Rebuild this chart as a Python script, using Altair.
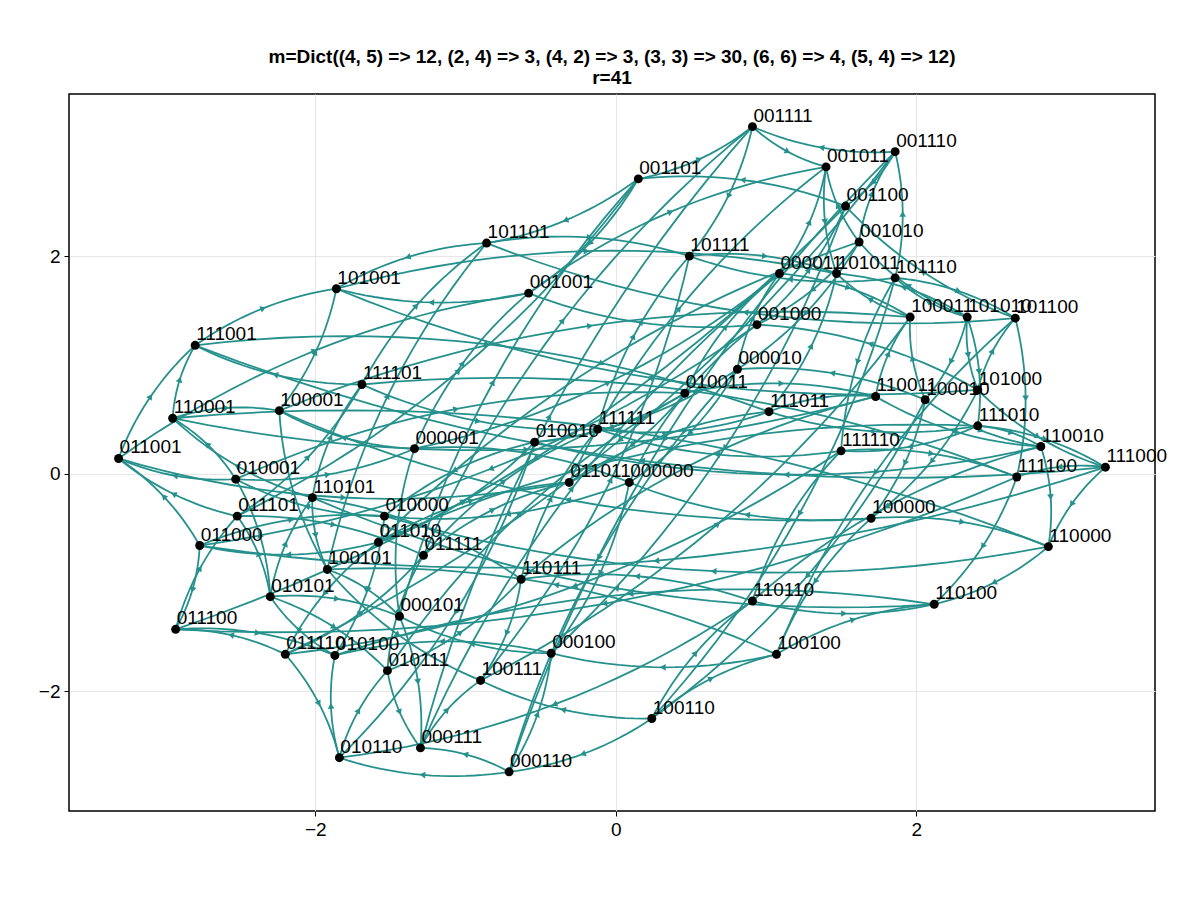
import math
import pandas as pd
import altair as alt

labels = ["001111", "001011", "001110", "001101", "001100", "001010", "101101", "101111",
          "000011", "101011", "101110", "101001", "001001", "001000", "100011", "101010",
          "101100", "111001", "000010", "111101", "010011", "110001", "100001", "110011",
          "100010", "101000", "111011", "111010", "000001", "010010", "111111", "011001",
          "110010", "111110", "111100", "111000", "010001", "110101", "011011", "000000",
          "011101", "010000", "011010", "100000", "011111", "110000", "100101", "011000",
          "110111", "010101", "000101", "110110", "110100", "011100", "011110", "010100",
          "000100", "100100", "010111", "100111", "100110", "010110", "000111", "000110"]
xs = [0.91, 1.40, 1.86, 0.15, 1.53, 1.62, -0.86, 0.49,
      1.09, 1.47, 1.86, -1.86, -0.58, 0.94, 1.96, 2.34,
      2.66, -2.80, 0.81, -1.69, 0.46, -2.95, -2.24, 1.73,
      2.06, 2.41, 1.02, 2.41, -1.34, -0.54, -0.12, -3.31,
      2.83, 1.50, 2.67, 3.26, -2.53, -2.02, -0.31, 0.09,
      -2.52, -1.54, -1.58, 1.70, -1.28, 2.88, -1.92, -2.77,
      -0.63, -2.30, -1.44, 0.91, 2.12, -2.93, -2.20, -1.87,
      -0.43, 1.07, -1.52, -0.90, 0.24, -1.84, -1.30, -0.71]
ys = [3.19, 2.82, 2.96, 2.71, 2.46, 2.13, 2.12, 2.00,
      1.84, 1.84, 1.80, 1.70, 1.66, 1.37, 1.44, 1.44,
      1.43, 1.18, 0.96, 0.82, 0.74, 0.51, 0.58, 0.71,
      0.68, 0.77, 0.57, 0.44, 0.23, 0.29, 0.41, 0.14,
      0.25, 0.21, -0.03, 0.06, -0.05, -0.22, -0.08, -0.08,
      -0.39, -0.39, -0.63, -0.41, -0.75, -0.67, -0.88, -0.66,
      -0.97, -1.13, -1.31, -1.17, -1.20, -1.43, -1.66, -1.67,
      -1.65, -1.66, -1.81, -1.90, -2.25, -2.61, -2.52, -2.74]

W, H = 1086, 717
XD = [-3.64, 3.59]
YD = [-3.10, 3.49]
sx = W / (XD[1] - XD[0])
sy = H / (YD[1] - YD[0])
TEAL = "#26918c"

pos = {l: (x, y) for l, x, y in zip(labels, xs, ys)}

# edges between labels one bit apart
line_rows, arrow_rows = [], []
eid = 0
for a in labels:
    ia = int(a, 2)
    for bit in range(6):
        ib = ia ^ (1 << bit)
        if ib < ia:
            continue
        b = format(ib, "06b")
        src, dst = (a, b) if (ia + bit) % 2 == 0 else (b, a)
        x0, y0 = pos[src][0] * sx, pos[src][1] * sy
        x1, y1 = pos[dst][0] * sx, pos[dst][1] * sy
        dx, dy = x1 - x0, y1 - y0
        bend = 0.12 * (1 if (ia + 2 * bit) % 3 else -1)
        cx = (x0 + x1) / 2 - dy * bend
        cy = (y0 + y1) / 2 + dx * bend
        for k in range(21):
            t = k / 20
            px = (1 - t) ** 2 * x0 + 2 * (1 - t) * t * cx + t ** 2 * x1
            py = (1 - t) ** 2 * y0 + 2 * (1 - t) * t * cy + t ** 2 * y1
            line_rows.append({"e": eid, "k": k, "x": px / sx, "y": py / sy})
        px = 0.25 * x0 + 0.5 * cx + 0.25 * x1
        py = 0.25 * y0 + 0.5 * cy + 0.25 * y1
        tx = (cx - x0) + (x1 - cx)
        ty = (cy - y0) + (y1 - cy)
        ang = math.degrees(math.atan2(tx, ty)) % 360
        arrow_rows.append({"x": px / sx, "y": py / sy, "a": ang})
        eid += 1

edges = pd.DataFrame(line_rows)
arrows = pd.DataFrame(arrow_rows)
nodes = pd.DataFrame({"label": labels, "x": xs, "y": ys})

X = alt.X("x:Q", scale=alt.Scale(domain=XD, nice=False, zero=False),
          axis=alt.Axis(values=[-2, 0, 2], title=None, format="d"))
Y = alt.Y("y:Q", scale=alt.Scale(domain=YD, nice=False, zero=False),
          axis=alt.Axis(values=[-2, 0, 2], title=None, format="d"))

lines = alt.Chart(edges).mark_line(color=TEAL, strokeWidth=1.8, clip=True).encode(
    x=X, y=Y, detail="e:N", order="k:Q")
heads = alt.Chart(arrows).mark_point(shape="triangle", filled=True, color=TEAL,
                                     size=45, opacity=1).encode(
    x="x:Q", y="y:Q", angle=alt.Angle("a:Q", scale=None))
dots = alt.Chart(nodes).mark_circle(color="black", size=80, opacity=1).encode(x="x:Q", y="y:Q")
text = alt.Chart(nodes).mark_text(align="left", baseline="bottom", dx=1, dy=-1,
                                  fontSize=19, font="Liberation Sans").encode(
    x="x:Q", y="y:Q", text="label:N")

chart = alt.layer(lines, heads, dots, text).properties(
    width=W, height=H,
    padding={"left": 30, "top": 40, "right": 5, "bottom": 5},
    title=alt.Title(["m=Dict((4, 5) => 12, (2, 4) => 3, (4, 2) => 3, (3, 3) => 30, (6, 6) => 4, (5, 4) => 12)",
                     "r=41"], fontSize=19, font="Liberation Sans", fontWeight="bold",
                    anchor="middle", offset=6),
).configure_view(stroke="black", strokeWidth=1.5).configure_axis(
    grid=True, gridColor="#e6e6e6", domain=False, labelFontSize=19, labelFont="Liberation Sans",
    tickColor="black", labelColor="black", tickSize=5, labelPadding=4
)

chart.save("out.html", embed_options={"renderer": "svg", "actions": False})
